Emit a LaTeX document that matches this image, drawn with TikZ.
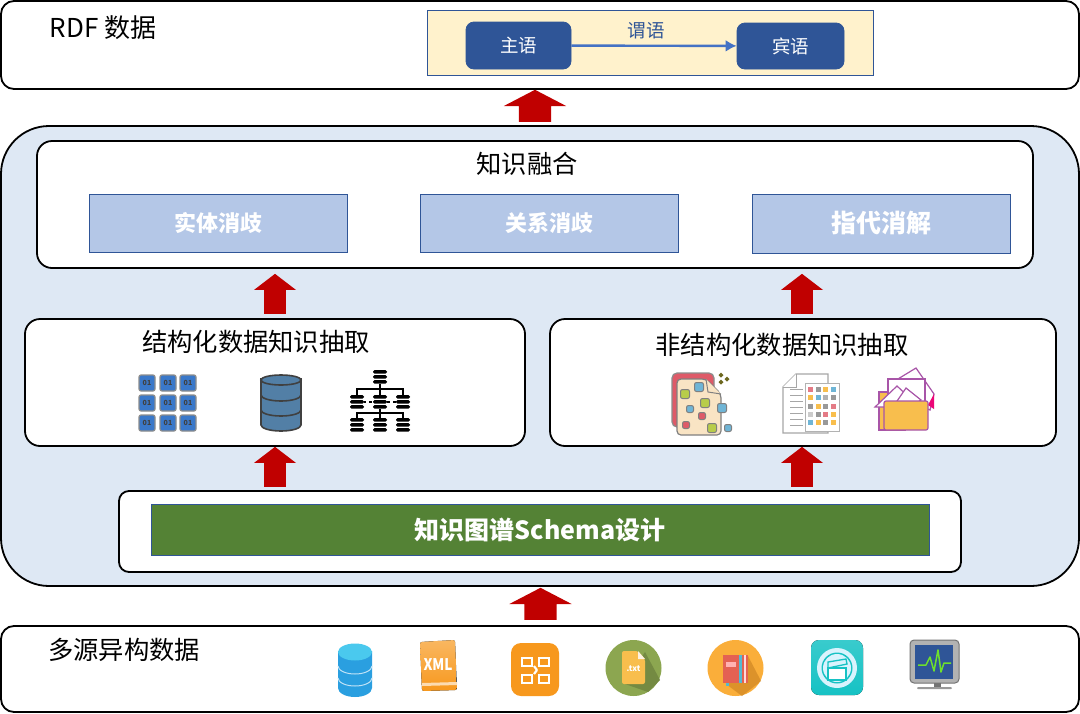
\documentclass[tikz,border=0pt]{standalone}
\usepackage{fontspec}
\setmainfont{Noto Sans CJK SC}
\usetikzlibrary{arrows.meta, shapes.arrows}
\definecolor{azul}{HTML}{2F5597}
\definecolor{azulseta}{HTML}{4472C4}
\definecolor{seta}{HTML}{C00000}
\definecolor{claroazul}{HTML}{B4C7E7}
\definecolor{fundo}{HTML}{DEE8F4}
\definecolor{creme}{HTML}{FFF2CC}
\definecolor{verde}{HTML}{548235}
\definecolor{roxo}{HTML}{A855A8}
\definecolor{amarelo}{HTML}{F8BE4D}
\definecolor{bege}{HTML}{F9E4C4}
\definecolor{lima}{HTML}{B8CC4A}
\definecolor{celeste}{HTML}{6FB5D6}
\definecolor{rosa}{HTML}{DE5A68}
\definecolor{turquesa}{HTML}{16C2C4}
\definecolor{laranja}{HTML}{F7981D}
\definecolor{oliva}{HTML}{8CA650}
\definecolor{olivaesc}{HTML}{748A42}
\definecolor{bitazul}{HTML}{3A78C9}
\newcommand{\fs}[1]{\fontsize{#1}{#1}\selectfont}
\tikzset{
  painel/.style={rectangle, draw=black, fill=white, line width=1.8pt, rounded corners=13pt, inner sep=0pt},
  titulo/.style={font=\fs{25.3}, inner sep=0pt, text=black},
  azulbox/.style={rectangle, draw=azul, fill=azul, line width=0.8pt, rounded corners=8pt, text=white, font=\fs{18.5}, inner sep=0pt},
  claro/.style={rectangle, draw=azul, fill=claroazul, line width=0.9pt, inner sep=0pt, text=white, font=\bfseries\fs{22}, minimum width=258pt, minimum height=58pt},
  setabig/.style={single arrow, draw=none, fill=seta, inner xsep=0pt, inner ysep=16pt, rotate=90, minimum width=62pt, minimum height=32pt, single arrow head extend=15pt, single arrow tip angle=125, single arrow head indent=0pt},
  setapeq/.style={single arrow, draw=none, fill=seta, inner xsep=0pt, inner ysep=10.5pt, rotate=90, minimum width=42pt, minimum height=40pt, single arrow head extend=10pt, single arrow tip angle=105, single arrow head indent=0pt},
}

% ---------------- icones ----------------
\newcommand{\bits}{%
  \foreach \x in {147,168,188} \foreach \y in {383,403,423} {
    \draw[fill=bitazul, draw=black!45, line width=1.2pt, rounded corners=2pt] (\x-8,\y-8) rectangle (\x+8,\y+8);
    \node[inner sep=0pt, font=\bfseries\fs{7}, text=black!75] at (\x,\y) {01};
  }
}
\newcommand{\banco}{%
  \definecolor{aco}{HTML}{527FA6}
  \foreach \y in {417,402,387} {
    \draw[fill=aco, draw=black!75, line width=1.6pt] (261,\y-8) -- (261,\y+8) arc[start angle=180, end angle=360, x radius=20, y radius=-6] -- (301,\y-8) -- cycle;
  }
  \draw[fill=aco, draw=black!75, line width=1.6pt] (281,380) ellipse[x radius=20, y radius=5];
}
\newcommand{\minidb}[2]{%
  \foreach \d in {-5,0,5} { \fill[black, rounded corners=1.5pt] (#1-7,#2+\d-2) rectangle (#1+7,#2+\d+1.5); }
}
\newcommand{\arvore}{%
  \draw[black, line width=1.6pt] (380,376) -- (380,425) (357,402) |- (403,389) -- (403,402) (357,425) |- (403,413) -- (403,425);
  \draw[black, line width=1.4pt, dashed] (357,402) -- (403,402);
  \foreach \x/\y in {380/377, 357/402, 380/402, 403/402, 357/425, 380/425, 403/425} { \fill[white] (\x-7,\y-7) rectangle (\x+7,\y+7); \minidb{\x}{\y} }
}
\newcommand{\quadrado}[4]{%
  \draw[fill=#4, draw=black!50, line width=1pt, rounded corners=2pt] (#1-#3,#2-#3) rectangle (#1+#3,#2+#3);
}
\newcommand{\docfolha}{%
  \draw[fill=rosa, draw=black!45, line width=1.2pt, rounded corners=5pt] (672,427) -- (672,373) -- (714,373) -- (714,427) -- cycle;
  \draw[fill=bege, draw=black!50, line width=1.2pt, rounded corners=4pt] (677,379) -- (706,379) -- (721,394) -- (721,435) -- (677,435) -- cycle;
  \draw[fill=bege, draw=black!50, line width=1pt] (706,379) -- (708,392) -- (721,394);
  \quadrado{685}{394}{4.5}{lima}
  \quadrado{699}{387}{4.5}{celeste}
  \quadrado{705}{403}{4.5}{lima}
  \quadrado{690}{409}{3.5}{celeste}
  \quadrado{702}{416}{3.5}{rosa}
  \quadrado{722}{408}{4.5}{celeste}
  \quadrado{686}{425}{3.5}{rosa}
  \quadrado{712}{428}{4.5}{lima}
  \quadrado{728}{428}{3.5}{celeste}
  \foreach \x/\y in {721/375, 727/379, 721/382} { \fill[olive!70!black] (\x,\y-2.5) -- (\x+2.5,\y) -- (\x,\y+2.5) -- (\x-2.5,\y) -- cycle; }
}
\newcommand{\doctabela}{%
  \draw[fill=white, draw=black!35, line width=1.2pt] (783,387) -- (796,374) -- (828,374) -- (828,433) -- (783,433) -- cycle;
  \draw[fill=white, draw=black!35, line width=1pt] (796,374) -- (796,387) -- (783,387);
  \foreach \y in {389,395,401,407,413,419,425} { \draw[black!35, line width=1pt] (790,\y) -- (803,\y); }
  \draw[fill=white, draw=black!30, line width=1pt] (805,383) rectangle (839,431);
  \foreach \x/\y/\c in {810/389/rosa!80, 818/389/black!40, 825/389/amarelo, 833/389/celeste, 810/397/amarelo, 818/397/celeste, 825/397/black!30, 833/397/black!40, 810/406/black!40, 818/406/amarelo, 825/406/black!40, 833/406/rosa!80, 810/414/black!20, 818/414/black!40, 825/414/rosa!80, 833/414/amarelo, 810/422/celeste, 818/422/amarelo, 825/422/black!40, 833/422/amarelo} {
    \fill[\c] (\x-2.5,\y-2.5) rectangle (\x+2.5,\y+2.5);
  }
}
\newcommand{\pasta}{%
  \draw[fill=amarelo, draw=roxo, line width=1.2pt] (879,392) rectangle (905,430);
  \draw[fill=white, draw=roxo, line width=1.2pt] (888,385) -- (916,368) -- (934,394) -- (930,410) -- (905,400) -- cycle;
  \fill[lima!70!black] (916,379) -- (923,382) -- (920,388) -- cycle;
  \fill[magenta!80!red] (934,394) -- (928,405) -- (934,409) -- cycle;
  \draw[fill=white, draw=roxo, line width=1.2pt] (888,379) rectangle (925,407);
  \draw[fill=white, draw=roxo, line width=1.2pt] (875,407) -- (897,386) -- (912,400) -- (905,407) -- cycle;
  \draw[fill=white, draw=roxo, line width=1.2pt] (895,404) -- (906,388) -- (921,400) -- (915,404) -- cycle;
  \draw[fill=amarelo, draw=roxo, line width=1.2pt, rounded corners=2pt] (884,401) rectangle (928,430);
}
\newcommand{\cilindro}{%
  \definecolor{ciano}{HTML}{2A9FE0}
  \fill[ciano] (338,651) -- (338,688) arc[start angle=180, end angle=360, x radius=17, y radius=-9] -- (372,651) -- cycle;
  \draw[white!70!ciano, line width=1pt] (338,666) arc[start angle=180, end angle=360, x radius=17, y radius=-8];
  \draw[white!70!ciano, line width=1pt] (338,678) arc[start angle=180, end angle=360, x radius=17, y radius=-8];
  \fill[ciano!70!cyan!80!white] (355,652) ellipse[x radius=17, y radius=8.5];
}
\newcommand{\xml}{%
  \fill[top color=laranja!70!white, bottom color=laranja, rounded corners=2pt] (420,642) -- (455,640) -- (457,690) -- (422,691) -- cycle;
  \fill[laranja!35!white] (422,683) -- (457,682) -- (457,685) -- (422,686) -- cycle;
  \node[inner sep=0pt, font=\bfseries\fs{16}, text=white, xscale=0.85] (xmltxt) at (438,665) {XML};
}
\newcommand{\escritorio}{%
  \fill[laranja, rounded corners=10pt] (511,643) rectangle (559,696);
  \foreach \xa/\ya in {522/658, 539/658, 522/675, 539/675} { \draw[white, line width=2.4pt] (\xa,\ya) rectangle (\xa+10,\ya+8); }
  \draw[white, line width=2.2pt] (534,666) -- (537,670) (537,670) -- (534,674);
}
\newcommand{\txt}{%
  \fill[oliva] (633.5,668) circle[radius=28];
  \fill[olivaesc] (645,652) -- (660,680) -- (648,692) -- (625,684) -- cycle;
  \fill[amarelo, rounded corners=2pt] (622,651) -- (638,651) -- (645,659) -- (645,684) -- (622,684) -- cycle;
  \fill[bege!50!white] (638,651) -- (645,659) -- (638,659) -- cycle;
  \node[inner sep=0pt, font=\bfseries\fs{8}, text=white] (txtlabel) at (633.5,669) {.txt};
}
\newcommand{\livro}{%
  \fill[amarelo!75!orange] (735.5,668) circle[radius=28];
  \fill[amarelo!60!orange!85!black, opacity=0.8] (748,656) -- (761,681) -- (742,696) -- (726,684) -- cycle;
  \fill[rosa!80!orange] (723,655) rectangle (748,683);
  \fill[celeste!70!turquesa] (739,655) rectangle (742,683);
  \fill[white!85!red] (744,655) rectangle (746,683);
  \fill[white!70!red] (726,662) rectangle (736,667);
  \fill[celeste!70!turquesa] (726,683) rectangle (729,686);
}
\newcommand{\filme}{%
  \fill[top color=turquesa!85!white, bottom color=turquesa, rounded corners=8pt] (811,640) rectangle (863,695);
  \fill[white!85!cyan] (837,668) circle[radius=20];
  \fill[turquesa] (837,668) circle[radius=15.5];
  \fill[white!85!cyan] (837,668) circle[radius=14];
  \draw[turquesa, fill=white, line width=1.3pt] (828,668) rectangle (846,680);
  \draw[turquesa, fill=white!85!cyan, line width=1.3pt] (828,662) -- (846,659) -- (847,664) -- (828,668) -- cycle;
}
\newcommand{\monitor}{%
  \fill[black!55] (934,683) rectangle (941,688);
  \fill[black!40, rounded corners=1pt] (917,687) rectangle (952,689);
  \draw[fill=black!30, draw=black!55, line width=1pt, rounded corners=4pt] (910,640) rectangle (959,683);
  \fill[azul] (915,645) rectangle (953,679);
  \draw[lima!60!green, line width=1.5pt, line join=round] (918,665) -- (926,665) -- (930,657) -- (934,671) -- (938,650) -- (941,672) -- (944,663) -- (951,663);
}

\begin{document}
\begin{tikzpicture}[x=1pt, y=-1pt]
  \useasboundingbox (0,0) rectangle (1080,713);

  % ---------------- RDF ----------------
  \node[painel, minimum width=1078pt, minimum height=88pt] (rdfbox) at (540,45) {};
  \node[titulo, font=\fs{26}] (rdftitulo) at (103,28) {RDF 数据};
  \node[rectangle, draw=azul, fill=creme, line width=1pt, minimum width=446pt, minimum height=65pt] (triplo) at (650,42.5) {};
  \node[azulbox, minimum width=105pt, minimum height=47pt] (sujeito) at (518.5,45.5) {主语};
  \node[azulbox, minimum width=107pt, minimum height=46pt] (objeto) at (790.5,46) {宾语};
  \draw[-{Latex[length=11pt, width=12pt]}, draw=azulseta, line width=2.4pt] (sujeito) -- (objeto);
  \node[inner sep=0pt, font=\fs{18.5}, text=azul] (predicado) at (646,31) {谓语};

  % ---------------- bloco central ----------------
  \node[painel, fill=fundo, rounded corners=48pt, minimum width=1078pt, minimum height=460pt] (central) at (540,356) {};
  \node[painel, rounded corners=15pt, minimum width=996pt, minimum height=127pt] (fusao) at (535,204.5) {};
  \node[titulo] (fusaotitulo) at (527,164) {知识融合};
  \node[claro] (entidade) at (218.5,223) {实体消歧};
  \node[claro] (relacao) at (549,223) {关系消歧};
  \node[claro, font=\bfseries\fs{25}, minimum height=59pt] (correferencia) at (881.5,223.5) {指代消解};

  \node[painel, rounded corners=15pt, minimum width=500pt, minimum height=127pt] (estruturado) at (275,382.5) {};
  \node[titulo] (estruturadotitulo) at (256,342) {结构化数据知识抽取};
  \node[painel, rounded corners=15pt, minimum width=506pt, minimum height=127pt] (naoestruturado) at (803,382.5) {};
  \node[titulo] (naotitulo) at (782,345) {非结构化数据知识抽取};
  \bits \banco \arvore
  \docfolha \doctabela \pasta

  \node[painel, rounded corners=10pt, minimum width=842pt, minimum height=81pt] (schema) at (540,531.5) {};
  \node[rectangle, draw=azul, fill=verde, line width=1pt, minimum width=778pt, minimum height=51pt, text=white, font=\bfseries\fs{25}, inner sep=0pt] (schemabar) at (540,529.5) {知识图谱Schema设计};

  % ---------------- fontes ----------------
  \node[painel, minimum width=1078pt, minimum height=86pt] (fontes) at (540,669) {};
  \node[titulo] (fontestitulo) at (124,650) {多源异构数据};
  \cilindro \xml \escritorio \txt \livro \filme \monitor

  % ---------------- setas ----------------
  \node[setabig] (seta1) at (535,110) {};
  \node[setabig] (seta2) at (540.5,608) {};
  \node[setapeq] (seta3) at (275,298) {};
  \node[setapeq] (seta4) at (802,298) {};
  \node[setapeq] (seta5) at (275,471) {};
  \node[setapeq] (seta6) at (802,471) {};
\end{tikzpicture}
\end{document}
